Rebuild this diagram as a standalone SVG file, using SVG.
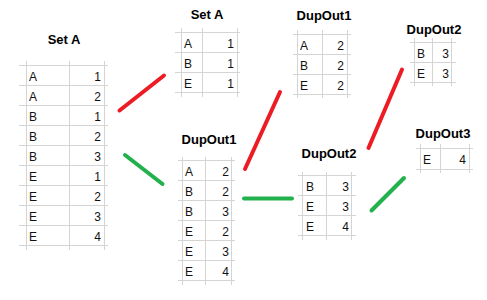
<svg xmlns="http://www.w3.org/2000/svg" width="487" height="300" viewBox="0 0 487 300">
<style>
.g{stroke:#d4d4d4;stroke-width:1;fill:none}
.t{font-family:"Liberation Sans",Arial,sans-serif;font-size:13px;font-weight:bold;text-anchor:middle;fill:#000}
.c{font-family:"Liberation Sans",Arial,sans-serif;font-size:12px;fill:#111}
.n{text-anchor:end}
.r{stroke:#ED1C24;stroke-width:4;stroke-linecap:round}
.gr{stroke:#22B14C;stroke-width:4;stroke-linecap:round}
</style>
<rect width="487" height="300" fill="#fff"/>
<g id="setA">
<text class="t" x="64" y="44">Set A</text>
<path class="g" d="M19 65.5H108M19 85.5H108M19 105.5H108M19 125.5H108M19 145.5H108M19 165.5H108M19 185.5H108M19 205.5H108M19 225.5H108M19 245.5H108M26.5 61V250M69.5 61V250M104.5 61V250"/>
<text class="c" x="29" y="81">A</text><text class="c n" x="101" y="81">1</text>
<text class="c" x="29" y="101">A</text><text class="c n" x="101" y="101">2</text>
<text class="c" x="29" y="121">B</text><text class="c n" x="101" y="121">1</text>
<text class="c" x="29" y="141">B</text><text class="c n" x="101" y="141">2</text>
<text class="c" x="29" y="161">B</text><text class="c n" x="101" y="161">3</text>
<text class="c" x="29" y="181">E</text><text class="c n" x="101" y="181">1</text>
<text class="c" x="29" y="201">E</text><text class="c n" x="101" y="201">2</text>
<text class="c" x="29" y="221">E</text><text class="c n" x="101" y="221">3</text>
<text class="c" x="29" y="241">E</text><text class="c n" x="101" y="241">4</text>
</g>
<g id="setA2">
<text class="t" x="207" y="19">Set A</text>
<path class="g" d="M175 32.5H240M175 52.5H240M175 72.5H240M175 92.5H240M181.5 28V97M202.5 28V97M237.5 28V97"/>
<text class="c" x="184" y="48">A</text><text class="c n" x="234" y="48">1</text>
<text class="c" x="184" y="68">B</text><text class="c n" x="234" y="68">1</text>
<text class="c" x="184" y="88">E</text><text class="c n" x="234" y="88">1</text>
</g>
<g id="dupout1top">
<text class="t" x="324" y="20">DupOut1</text>
<path class="g" d="M293 34.5H351M293 54.5H351M293 74.5H351M293 94.5H351M297.5 30V98M322.5 30V98M347.5 30V98"/>
<text class="c" x="300" y="50">A</text><text class="c n" x="344" y="50">2</text>
<text class="c" x="300" y="70">B</text><text class="c n" x="344" y="70">2</text>
<text class="c" x="300" y="90">E</text><text class="c n" x="344" y="90">2</text>
</g>
<g id="dupout2top">
<text class="t" x="434" y="34">DupOut2</text>
<path class="g" d="M410 42.5H456M410 62.5H456M410 82.5H456M414.5 38V86M432.5 38V86M451.5 38V86"/>
<text class="c" x="417" y="58">B</text><text class="c n" x="449" y="58">3</text>
<text class="c" x="417" y="78">E</text><text class="c n" x="449" y="78">3</text>
</g>
<g id="dupout3">
<text class="t" x="443" y="138">DupOut3</text>
<path class="g" d="M416 148.5H473M416 169.5H473M420.5 144V173M440.5 144V173M469.5 144V173"/>
<text class="c" x="423" y="164">E</text><text class="c n" x="466" y="164">4</text>
</g>
<g id="dupout1">
<text class="t" x="209" y="144">DupOut1</text>
<path class="g" d="M178 160.5H235M178 180.5H235M178 200.5H235M178 220.5H235M178 240.5H235M178 260.5H235M178 280.5H235M182.5 157V285M205.5 157V285M231.5 157V285"/>
<text class="c" x="185" y="176">A</text><text class="c n" x="229" y="176">2</text>
<text class="c" x="185" y="196">B</text><text class="c n" x="229" y="196">2</text>
<text class="c" x="185" y="216">B</text><text class="c n" x="229" y="216">3</text>
<text class="c" x="185" y="236">E</text><text class="c n" x="229" y="236">2</text>
<text class="c" x="185" y="256">E</text><text class="c n" x="229" y="256">3</text>
<text class="c" x="185" y="276">E</text><text class="c n" x="229" y="276">4</text>
</g>
<g id="dupout2">
<text class="t" x="329" y="158">DupOut2</text>
<path class="g" d="M298 175.5H356M298 195.5H356M298 215.5H356M298 235.5H356M302.5 172V240M326.5 172V240M351.5 172V240"/>
<text class="c" x="306" y="191">B</text><text class="c n" x="349" y="191">3</text>
<text class="c" x="306" y="211">E</text><text class="c n" x="349" y="211">3</text>
<text class="c" x="306" y="231">E</text><text class="c n" x="349" y="231">4</text>
</g>
<g id="connectors">
<line class="r" x1="119.5" y1="110.5" x2="164" y2="75.5"/>
<line class="gr" x1="125" y1="155" x2="162.5" y2="184"/>
<line class="r" x1="245" y1="169" x2="280" y2="92"/>
<line class="gr" x1="244" y1="198.5" x2="292" y2="198.5"/>
<line class="r" x1="368.5" y1="148" x2="402" y2="69.5"/>
<line class="gr" x1="371.5" y1="210.5" x2="404" y2="178"/>
</g>
</svg>
